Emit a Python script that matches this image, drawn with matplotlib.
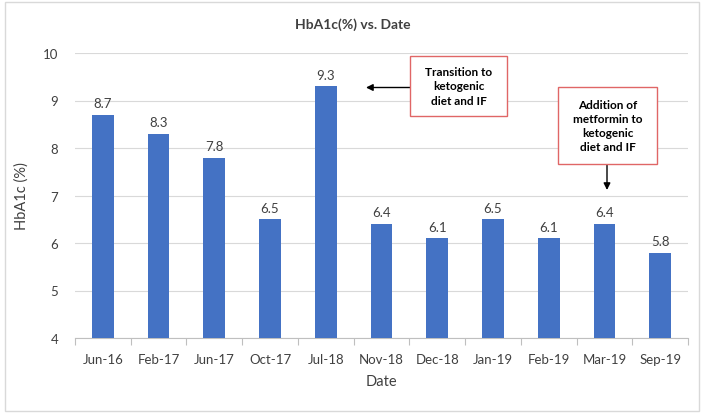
import matplotlib
matplotlib.use("Agg")
import matplotlib.pyplot as plt
from matplotlib.patches import Rectangle

plt.rcParams['font.family'] = ['Lato', 'DejaVu Sans']

dates = ["Jun-16", "Feb-17", "Jun-17", "Oct-17", "Jul-18", "Nov-18",
         "Dec-18", "Jan-19", "Feb-19", "Mar-19", "Sep-19"]
hba1c = [8.7, 8.3, 7.8, 6.5, 9.3, 6.4, 6.1, 6.5, 6.1, 6.4, 5.8]
yticks = [4, 5, 6, 7, 8, 9, 10]

W, H = 709, 414
fig = plt.figure(figsize=(W / 100, H / 100), dpi=100)

# outer frame
fig.patches.append(Rectangle((5 / W, 2 / H), 694 / W, 409 / H, transform=fig.transFigure,
                             fill=False, edgecolor="#D9D9D9", linewidth=1.0))

ax = fig.add_axes([75 / W, (H - 339) / H, 613 / W, 285 / H])
x = list(range(len(dates)))
bars = ax.bar(x, hba1c, width=0.39, color="#4472C4", zorder=3)
ax.set_ylim(4, 10)
ax.set_xlim(-0.5, len(dates) - 0.5)
ax.set_yticks(yticks)
ax.set_xticks(x)
ax.set_xticklabels(dates)
ax.set_xticks([i - 0.5 for i in range(len(dates) + 1)], minor=True)
ax.tick_params(axis='x', which='major', length=0, pad=11, labelsize=9.5, labelcolor="#404040")
ax.tick_params(axis='x', which='minor', length=5, color="#BFBFBF", width=0.8)
ax.tick_params(axis='y', length=0, pad=12, labelsize=9.5, labelcolor="#404040")
ax.grid(axis='y', color="#D9D9D9", linewidth=0.8, zorder=0)
for s in ['top', 'right', 'left']:
    ax.spines[s].set_visible(False)
ax.spines['bottom'].set_color("#BFBFBF")
ax.spines['bottom'].set_linewidth(0.8)

for xi, v in zip(x, hba1c):
    ax.annotate(f"{v}", (xi, v), xytext=(0, 4), textcoords="offset points",
                ha="center", va="bottom", fontsize=9.5, color="#404040")

ax.set_xlabel("Date", fontsize=10.5, color="#404040", labelpad=6)
ax.set_ylabel("HbA1c (%)", fontsize=10.5, color="#404040", labelpad=10)
fig.text(353 / W, 1 - 25 / H, "HbA1c(%) vs. Date", ha="center", va="center",
         fontsize=10, fontweight="bold", color="#404040")

# annotation boxes
def fx(px):
    return px / W

def fy(py):
    return 1 - py / H

fig.patches.append(Rectangle((fx(410), fy(117)), 97 / W, 60 / H, transform=fig.transFigure,
                             facecolor="white", edgecolor="#E06666", linewidth=1.0, zorder=5))
fig.text(fx(458.5), fy(87), "Transition to\nketogenic\ndiet and IF", ha="center", va="center",
         fontsize=8.5, fontweight="bold", color="black", linespacing=1.35, zorder=6)
fig.patches.append(Rectangle((fx(558), fy(165)), 99 / W, 77 / H, transform=fig.transFigure,
                             facecolor="white", edgecolor="#E06666", linewidth=1.0, zorder=5))
fig.text(fx(607.5), fy(126.5), "Addition of\nmetformin to\nketogenic\ndiet and IF", ha="center",
         va="center", fontsize=8.5, fontweight="bold", color="black", linespacing=1.35, zorder=6)

ax.annotate("", xy=(fx(366), fy(88.5)), xytext=(fx(410), fy(88.5)),
            xycoords="figure fraction", textcoords="figure fraction",
            arrowprops=dict(arrowstyle="-|>", color="black", lw=1.0, mutation_scale=10,
                            shrinkA=0, shrinkB=0))
ax.annotate("", xy=(fx(607), fy(191)), xytext=(fx(607), fy(165)),
            xycoords="figure fraction", textcoords="figure fraction",
            arrowprops=dict(arrowstyle="-|>", color="black", lw=1.0, mutation_scale=10,
                            shrinkA=0, shrinkB=0))

fig.savefig("out.png", dpi=100)
